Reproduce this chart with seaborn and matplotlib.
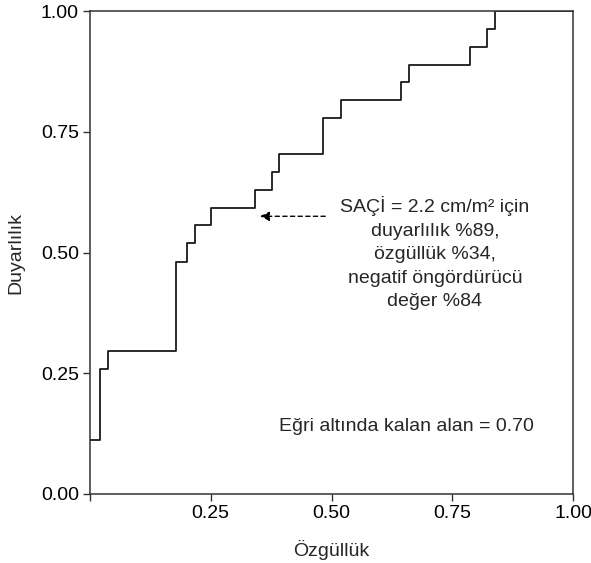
import matplotlib
matplotlib.use("Agg")
import matplotlib.pyplot as plt
import seaborn as sns
import pandas as pd

# ROC curve corners (steps-post)
ozgulluk = [0.000, 0.021, 0.037, 0.179, 0.200, 0.217, 0.250, 0.341, 0.376,
            0.392, 0.483, 0.519, 0.644, 0.660, 0.787, 0.821, 0.839, 1.000]
duyarlilik = [0.111, 0.259, 0.296, 0.481, 0.519, 0.556, 0.593, 0.630, 0.667,
              0.704, 0.778, 0.815, 0.852, 0.889, 0.926, 0.963, 1.000, 1.000]

x_ticks = [0.0, 0.25, 0.50, 0.75, 1.00]
x_tick_labels = ["", "0.25", "0.50", "0.75", "1.00"]
y_ticks = [0.0, 0.25, 0.50, 0.75, 1.00]
y_tick_labels = ["0.00", "0.25", "0.50", "0.75", "1.00"]

note_text = "SAÇİ = 2.2 cm/m² için\nduyarlılık %89,\nözgüllük %34,\nnegatif öngördürücü\ndeğer %84"
auc_text = "Eğri altında kalan alan = 0.70"

sns.set_theme(style="ticks")
plt.rcParams["font.family"] = ["Liberation Sans", "DejaVu Sans"]
plt.rcParams["font.size"] = 14

df = pd.DataFrame({"x": ozgulluk, "y": duyarlilik})

fig = plt.figure(figsize=(5.91, 5.63), dpi=100)
ax = fig.add_axes([90 / 591, 69 / 563, 483 / 591, 483 / 563])

sns.lineplot(data=df, x="x", y="y", ax=ax, color="#1a1a1a", linewidth=1.3,
             estimator=None, sort=False, drawstyle="steps-post")

ax.set_xlim(0, 1)
ax.set_ylim(0, 1)
ax.set_xticks(x_ticks)
ax.set_xticklabels(x_tick_labels)
ax.set_yticks(y_ticks)
ax.set_yticklabels(y_tick_labels)
ax.tick_params(axis="both", labelsize=14, length=5, width=1, color="#333333",
               colors="black", pad=3)
for s in ax.spines.values():
    s.set_color("#333333")
    s.set_linewidth(1.1)

ax.set_xlabel("Özgüllük", fontsize=14, labelpad=13)
ax.set_ylabel("Duyarlılık", fontsize=14, labelpad=12)

# dashed arrow pointing at the cut-off
ax.annotate("", xy=(0.352, 0.575), xytext=(0.487, 0.575),
            arrowprops=dict(arrowstyle="-|>", linestyle=(0, (3, 2.5)),
                            color="black", lw=1, mutation_scale=14,
                            shrinkA=0, shrinkB=0))

ax.text(0.714, 0.498, note_text, ha="center", va="center", fontsize=14,
        linespacing=1.5)
ax.text(0.655, 0.139, auc_text, ha="center", va="center", fontsize=14)

fig.savefig("out.png", dpi=100)
